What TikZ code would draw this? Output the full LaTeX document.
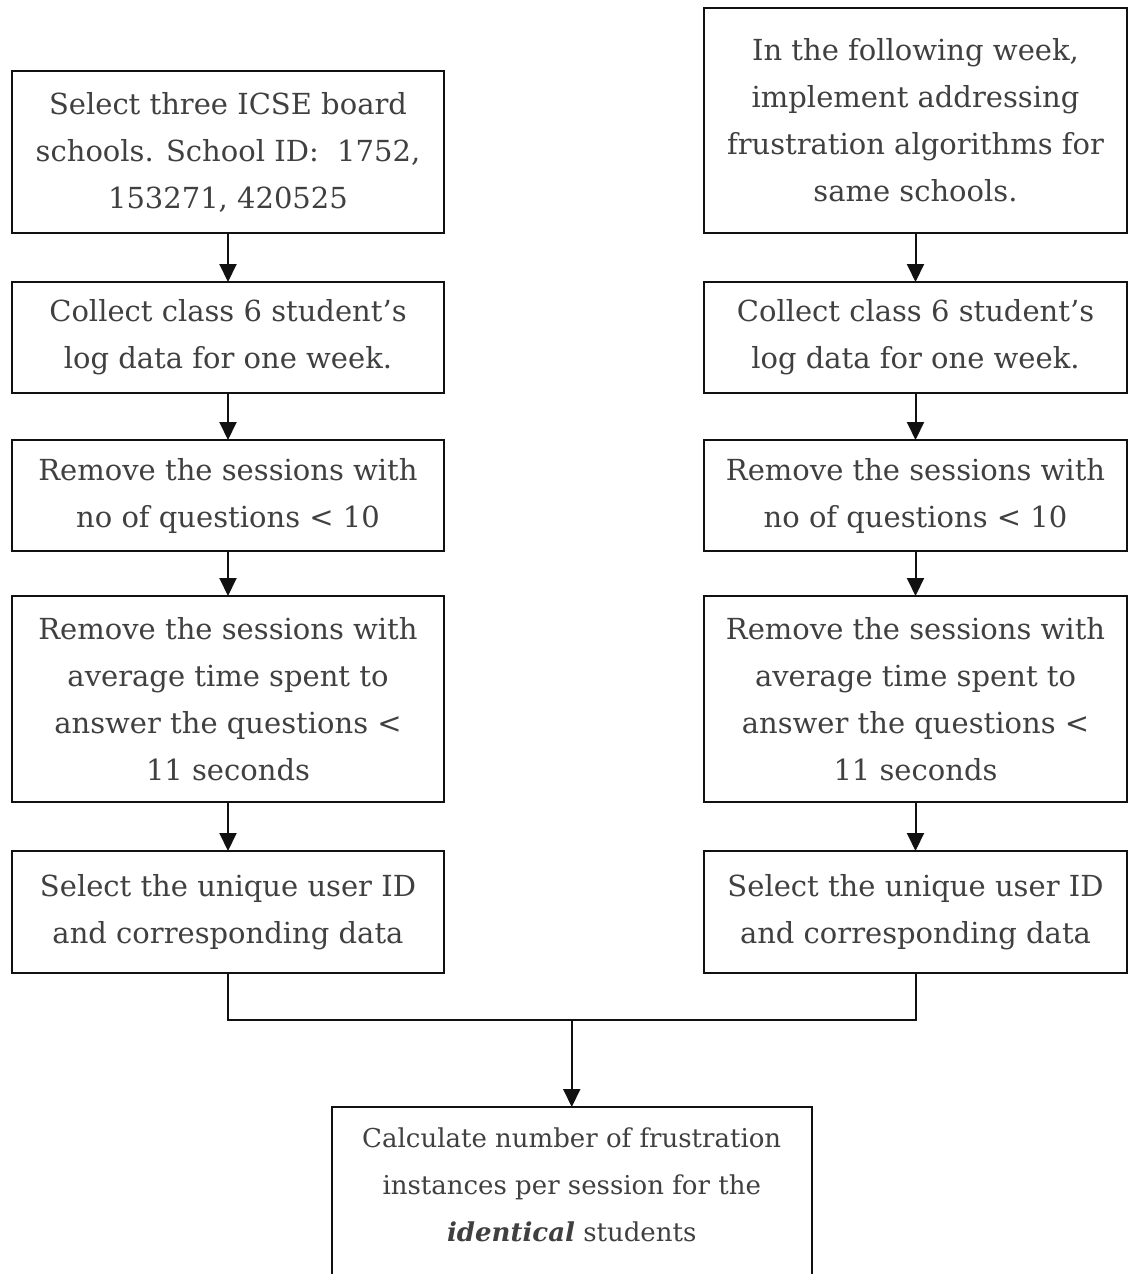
\documentclass[tikz,border=0pt]{standalone}
\usepackage{fontspec}
\setmainfont{DejaVu Serif}
\usetikzlibrary{arrows.meta, positioning, calc}
\definecolor{cText}{HTML}{404040}
\definecolor{cLine}{HTML}{111111}
\tikzset{
  stepbox/.style={draw=cLine, line width=1pt, align=center, text=cText,
    font={\fontsize{14.5pt}{23.5pt}\selectfont}, inner sep=3pt, outer sep=0pt},
  leftbox/.style={stepbox, minimum width=216pt},
  rightbox/.style={stepbox, minimum width=211.5pt},
  flow/.style={-{Triangle[length=9pt, width=8.5pt]}, line width=1pt, draw=cLine},
  joinline/.style={line width=1pt, draw=cLine},
}

\begin{document}
\begin{tikzpicture}[node distance=24pt]
  \useasboundingbox (0,0) rectangle (564.5pt,-637pt);

  % ----------------------------------------------------------------
  % Left column: first week
  % ----------------------------------------------------------------
  \node[leftbox, minimum height=81pt, anchor=south] (selA) at (114pt,-116.5pt)
    {Select three ICSE board\\ schools. School ID:\ \ 1752,\\ 153271, 420525};
  \node[leftbox, minimum height=55.5pt, below=24.5pt of selA] (logA)
    {Collect class 6 student's\\ log data for one week.};
  \node[leftbox, minimum height=55.5pt, below=23.5pt of logA] (numA)
    {Remove the sessions with\\ no of questions < 10};
  \node[leftbox, minimum height=103pt, below=22.5pt of numA] (timeA)
    {Remove the sessions with\\ average time spent to\\ answer the questions <\\ 11 seconds};
  \node[leftbox, minimum height=61pt, below=24.5pt of timeA] (uniqA)
    {Select the unique user ID\\ and corresponding data};

  \draw[flow] (selA) -- (logA);
  \draw[flow] (logA) -- (numA);
  \draw[flow] (numA) -- (timeA);
  \draw[flow] (timeA) -- (uniqA);

  % ----------------------------------------------------------------
  % Right column: following week
  % ----------------------------------------------------------------
  \node[rightbox, minimum height=112.5pt, anchor=south] (implB) at (457.75pt,-116.5pt)
    {In the following week,\\ implement addressing\\ frustration algorithms for\\ same schools.};
  \node[rightbox, minimum height=55.5pt, below=24.5pt of implB] (logB)
    {Collect class 6 student's\\ log data for one week.};
  \node[rightbox, minimum height=55.5pt, below=23.5pt of logB] (numB)
    {Remove the sessions with\\ no of questions < 10};
  \node[rightbox, minimum height=103pt, below=22.5pt of numB] (timeB)
    {Remove the sessions with\\ average time spent to\\ answer the questions <\\ 11 seconds};
  \node[rightbox, minimum height=61pt, below=24.5pt of timeB] (uniqB)
    {Select the unique user ID\\ and corresponding data};

  \draw[flow] (implB) -- (logB);
  \draw[flow] (logB) -- (numB);
  \draw[flow] (numB) -- (timeB);
  \draw[flow] (timeB) -- (uniqB);

  % ----------------------------------------------------------------
  % Merge
  % ----------------------------------------------------------------
  \draw[joinline] (uniqA.south) -- ++(0,-23.5pt) coordinate (jA) -| (uniqB.south);
  \coordinate (join) at ($(jA)!0.5!(jA-|uniqB.south)$);

  \node[stepbox, font={\fontsize{13pt}{23.5pt}\selectfont}, minimum width=240pt,
    minimum height=101pt, below=43.5pt of join] (calc)
    {Calculate number of frustration\\ instances per session for the\\
     \textbf{\textit{identical}} students\\[-7pt] \strut};

  \draw[flow] (join) -- (calc);

\end{tikzpicture}
\end{document}
